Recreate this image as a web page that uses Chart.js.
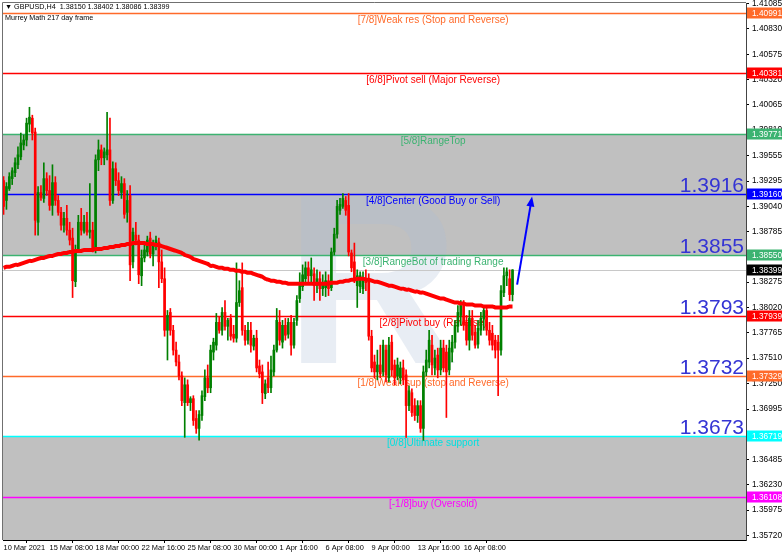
<!DOCTYPE html>
<html><head><meta charset="utf-8">
<script src="https://cdn.jsdelivr.net/npm/chart.js@4.4.0/dist/chart.umd.min.js"></script>
<style>html,body{margin:0;padding:0;background:#fff;}canvas{display:block;}</style>
</head><body>
<canvas id="c" width="782" height="555"></canvas>
<script>
// ---------- data ----------
const symbolTitle = '\u25BC GBPUSD,H4  1.38150 1.38402 1.38086 1.38399';
const indicatorTitle = 'Murrey Math 217 day frame';
const timeLabels = ['10 Mar 2021','15 Mar 08:00','18 Mar 00:00','22 Mar 16:00','25 Mar 08:00','30 Mar 00:00','1 Apr 16:00','6 Apr 08:00','9 Apr 00:00','13 Apr 16:00','16 Apr 08:00'];
const timeLabelBars = [0,16,32,48,64,80,96,112,128,144,160];
const opens = [1.3930,1.3910,1.3922,1.3932,1.3938,1.3946,1.3954,1.3966,1.3971,1.3987,1.3993,1.3979,1.3888,1.3918,1.3912,1.3932,1.3920,1.3905,1.3928,1.3910,
1.3898,1.3885,1.3892,1.3880,1.3872,1.3828,1.3860,1.3888,1.3879,1.3888,1.3878,1.3880,1.3862,1.3951,1.3961,1.3953,1.3956,1.3961,1.3910,1.3942,
1.3930,1.3918,1.3927,1.3898,1.3915,1.3848,1.3875,1.3870,1.3834,1.3852,1.3858,1.3872,1.3856,1.3865,1.3868,1.3848,1.3831,1.3779,1.3797,1.3779,
1.3759,1.3747,1.3733,1.3706,1.3724,1.3706,1.3710,1.3690,1.3680,1.3693,1.3712,1.3731,1.3721,1.3757,1.3764,1.3787,1.3779,1.3797,1.3783,1.3791,
1.3775,1.3771,1.3807,1.3822,1.3779,1.3769,1.3779,1.3763,1.3771,1.3743,1.3737,1.3715,1.3731,1.3721,1.3737,1.3759,1.3787,1.3767,1.3784,1.3775,
1.3787,1.3764,1.3789,1.3811,1.3823,1.3831,1.3842,1.3834,1.3836,1.3824,1.3831,1.3821,1.3822,1.3829,1.3822,1.3858,1.3876,1.3900,1.3904,1.3910,
1.3905,1.3857,1.3848,1.3824,1.3823,1.3821,1.3831,1.3829,1.3773,1.3747,1.3737,1.3744,1.3737,1.3759,1.3731,1.3767,1.3744,1.3733,1.3731,1.3741,
1.3734,1.3703,1.3716,1.3703,1.3693,1.3703,1.3680,1.3737,1.3747,1.3764,1.3741,1.3754,1.3739,1.3761,1.3757,1.3739,1.3757,1.3767,1.3783,1.3794,
1.3804,1.3787,1.3769,1.3791,1.3777,1.3765,1.3779,1.3791,1.3799,1.3779,1.3776,1.3769,1.3767,1.3759,1.3817,1.3834,1.3831,1.38150];
const highs = [1.3934,1.3928,1.3938,1.3943,1.3953,1.3964,1.3978,1.3976,1.3993,1.4004,1.3996,1.3983,1.3924,1.3925,1.3948,1.3938,1.3935,1.3946,1.3934,1.3915,
1.3903,1.3898,1.3905,1.3888,1.3882,1.3865,1.3895,1.3902,1.3895,1.3898,1.3927,1.3888,1.3956,1.3971,1.3966,1.3963,1.3999,1.3993,1.3949,1.3948,
1.3938,1.3934,1.3932,1.3920,1.3925,1.3882,1.3888,1.3875,1.3860,1.3865,1.3874,1.3878,1.3870,1.3874,1.3872,1.3860,1.3842,1.3799,1.3801,1.3784,
1.3767,1.3754,1.3737,1.3731,1.3729,1.3712,1.3713,1.3698,1.3698,1.3718,1.3739,1.3744,1.3764,1.3771,1.3796,1.3793,1.3802,1.3809,1.3791,1.3795,
1.3784,1.3847,1.3829,1.3847,1.3784,1.3787,1.3787,1.3774,1.3779,1.3749,1.3744,1.3729,1.3747,1.3753,1.3764,1.3801,1.3799,1.3789,1.3791,1.3791,
1.3794,1.3791,1.3814,1.3837,1.3845,1.3848,1.3848,1.3852,1.3842,1.3840,1.3838,1.3835,1.3838,1.3835,1.3862,1.3882,1.3910,1.3912,1.3917,1.3914,
1.3917,1.3860,1.3867,1.3840,1.3838,1.3838,1.3840,1.3836,1.3779,1.3754,1.3759,1.3764,1.3769,1.3764,1.3772,1.3774,1.3749,1.3751,1.3747,1.3749,
1.3739,1.3723,1.3720,1.3710,1.3708,1.3708,1.3743,1.3759,1.3779,1.3774,1.3759,1.3761,1.3769,1.3769,1.3764,1.3769,1.3774,1.3789,1.3804,1.3809,
1.3809,1.3794,1.3799,1.3799,1.3784,1.3789,1.3797,1.3804,1.3804,1.3787,1.3784,1.3774,1.3774,1.3824,1.3842,1.3842,1.3840,1.38402];
const lows = [1.3896,1.3901,1.3920,1.3926,1.3934,1.3942,1.3951,1.3961,1.3965,1.3979,1.3971,1.3875,1.3875,1.3910,1.3908,1.3915,1.3900,1.3895,1.3905,1.3895,
1.3880,1.3878,1.3875,1.3865,1.3812,1.3823,1.3858,1.3875,1.3877,1.3875,1.3872,1.3858,1.3857,1.3940,1.3946,1.3946,1.3951,1.3905,1.3907,1.3925,
1.3915,1.3912,1.3892,1.3888,1.3829,1.3842,1.3865,1.3826,1.3824,1.3848,1.3854,1.3852,1.3844,1.3860,1.3822,1.3827,1.3773,1.3749,1.3774,1.3754,
1.3743,1.3729,1.3703,1.3671,1.3703,1.3698,1.3683,1.3675,1.3668,1.3688,1.3708,1.3716,1.3716,1.3749,1.3759,1.3776,1.3774,1.3779,1.3769,1.3769,
1.3767,1.3767,1.3803,1.3774,1.3764,1.3765,1.3757,1.3759,1.3737,1.3731,1.3705,1.3710,1.3716,1.3716,1.3733,1.3757,1.3764,1.3761,1.3769,1.3771,
1.3754,1.3761,1.3784,1.3807,1.3819,1.3826,1.3827,1.3827,1.3809,1.3817,1.3809,1.3814,1.3813,1.3814,1.3819,1.3855,1.3872,1.3896,1.3902,1.3895,
1.3854,1.3838,1.3827,1.3802,1.3817,1.3816,1.3819,1.3769,1.3737,1.3731,1.3729,1.3731,1.3733,1.3727,1.3727,1.3733,1.3724,1.3729,1.3725,1.3724,
1.3671,1.3698,1.3692,1.3688,1.3686,1.3676,1.3668,1.3733,1.3741,1.3734,1.3734,1.3731,1.3734,1.3737,1.3691,1.3734,1.3747,1.3761,1.3777,1.3784,
1.3779,1.3764,1.3759,1.3769,1.3761,1.3761,1.3774,1.3779,1.3774,1.3764,1.3759,1.3751,1.3713,1.3754,1.3813,1.3824,1.3809,1.38086];
const closes = [1.3904,1.3924,1.3934,1.3940,1.3948,1.3956,1.3968,1.3971,1.3988,1.3994,1.3978,1.3890,1.3918,1.3913,1.3932,1.3920,1.3905,1.3928,1.3910,1.3898,
1.3885,1.3892,1.3880,1.3870,1.3829,1.3860,1.3888,1.3880,1.3888,1.3878,1.3880,1.3862,1.3951,1.3961,1.3953,1.3959,1.3961,1.3910,1.3942,1.3930,
1.3920,1.3927,1.3896,1.3910,1.3845,1.3878,1.3870,1.3835,1.3852,1.3860,1.3870,1.3856,1.3865,1.3870,1.3848,1.3831,1.3779,1.3794,1.3779,1.3759,
1.3747,1.3733,1.3708,1.3724,1.3706,1.3710,1.3688,1.3680,1.3694,1.3713,1.3731,1.3721,1.3759,1.3767,1.3787,1.3779,1.3797,1.3783,1.3789,1.3773,
1.3771,1.3807,1.3819,1.3779,1.3769,1.3779,1.3764,1.3771,1.3741,1.3735,1.3716,1.3725,1.3721,1.3739,1.3759,1.3789,1.3769,1.3784,1.3774,1.3787,
1.3764,1.3787,1.3809,1.3824,1.3835,1.3842,1.3834,1.3840,1.3824,1.3831,1.3821,1.3827,1.3829,1.3821,1.3858,1.3876,1.3904,1.3906,1.3912,1.3900,
1.3858,1.3842,1.3831,1.3834,1.3834,1.3831,1.3827,1.3773,1.3741,1.3737,1.3744,1.3735,1.3764,1.3734,1.3764,1.3739,1.3731,1.3744,1.3741,1.3729,
1.3703,1.3718,1.3696,1.3693,1.3703,1.3680,1.3737,1.3749,1.3769,1.3744,1.3751,1.3739,1.3761,1.3741,1.3737,1.3761,1.3767,1.3784,1.3797,1.3804,
1.3784,1.3769,1.3791,1.3774,1.3764,1.3781,1.3791,1.3799,1.3779,1.3769,1.3764,1.3759,1.3759,1.3819,1.3834,1.3838,1.3815,1.38399];
const ma217 = [1.3842,1.3843,1.3843,1.3844,1.3845,1.3845,1.3846,1.3847,1.3848,1.3849,1.3849,1.3850,1.3851,1.3852,1.3852,1.3853,1.3854,1.3854,1.3855,1.3856,
1.3856,1.3857,1.3857,1.3858,1.3858,1.3859,1.3859,1.3859,1.3860,1.3860,1.3860,1.3860,1.3861,1.3861,1.3861,1.3862,1.3862,1.3863,1.3863,1.3864,
1.3864,1.3865,1.3865,1.3866,1.3866,1.3867,1.3867,1.3867,1.3867,1.3867,1.3866,1.3866,1.3866,1.3865,1.3865,1.3864,1.3863,1.3862,1.3861,1.3860,
1.3859,1.3858,1.3857,1.3855,1.3854,1.3853,1.3851,1.3850,1.3849,1.3848,1.3847,1.3846,1.3844,1.3844,1.3843,1.3842,1.3842,1.3841,1.3841,1.3840,
1.3840,1.3839,1.3839,1.3838,1.3838,1.3837,1.3837,1.3836,1.3835,1.3834,1.3833,1.3831,1.3830,1.3829,1.3829,1.3828,1.3828,1.3827,1.3827,1.3826,
1.3826,1.3826,1.3826,1.3826,1.3826,1.3826,1.3826,1.3826,1.3826,1.3826,1.3826,1.3826,1.3826,1.3826,1.3827,1.3827,1.3827,1.3828,1.3828,1.3829,
1.3829,1.3830,1.3830,1.3831,1.3831,1.3831,1.3830,1.3830,1.3829,1.3828,1.3828,1.3827,1.3826,1.3825,1.3824,1.3824,1.3823,1.3822,1.3821,1.3821,
1.3820,1.3820,1.3819,1.3818,1.3818,1.3817,1.3817,1.3816,1.3815,1.3814,1.3813,1.3812,1.3811,1.3811,1.3810,1.3809,1.3808,1.3807,1.3807,1.3806,
1.3806,1.3805,1.3805,1.3805,1.3804,1.3804,1.3804,1.3803,1.3803,1.3803,1.3803,1.3802,1.3802,1.3802,1.3802,1.3802,1.3803,1.3803];
const levelValues = [1.40991,1.40381,1.39771,1.39160,1.38550,1.37939,1.37329,1.36719,1.36108];
const levelNames = ['[7/8]Weak res (Stop and Reverse)','[6/8]Pivot sell (Major Reverse)','[5/8]RangeTop','[4/8]Center (Good Buy or Sell)','[3/8]RangeBot of trading Range','[2/8]Pivot buy (Reverse)','[1/8]Weak sup (stop and Reverse)','[0/8]Ultimate support','[-1/8]buy (Oversold)'];
const bigLabelValues = [1.39160,1.38550,1.37939,1.37329,1.36719];
const bigLabelTexts = ['1.3916','1.3855','1.3793','1.3732','1.3673'];
const lowLabelValue = 1.35498;
const lowLabelText = '1.3549';
const lastPrice = 1.38399;
const axisTicks = [1.41085,1.40830,1.40575,1.40320,1.40065,1.39810,1.39555,1.39295,1.39040,1.38785,1.38530,1.38275,1.38020,1.37765,1.37510,1.37250,1.36995,1.36740,1.36485,1.36230,1.35975,1.35720];
const arrowFrom = [178.6, 1.3825];
const arrowTo = [183.8, 1.3914];
const priceMin = 1.35674, priceMax = 1.41092;
const barMin = -0.2, barMax = 258.2;

// ---------- styles ----------
const levelColors = ['#ff6a2a','#ff0000','#3cb371','#0000ff','#3cb371','#ff0000','#ff6a2a','#00ffff','#ff00ff'];
const levelTextColors = ['#ff6a2a','#ff0000','#3cb371','#0000ff','#3cb371','#ff0000','#ff6a2a','#00e0e0','#ff00ff'];
const UP = '#008000', DOWN = '#ff0000';
const FONT = '"Liberation Sans", Arial, sans-serif';

const idx = closes.map((_, i) => i);
const candleColor = idx.map(i => closes[i] >= opens[i] ? UP : DOWN);

const levelsPlugin = {
  id: 'levels',
  beforeDatasetsDraw(chart) {
    const {ctx, chartArea: a, scales: {x, y}} = chart;
    ctx.save();
    ctx.beginPath(); ctx.rect(a.left, a.top, a.right - a.left, a.bottom - a.top); ctx.clip();
    ctx.fillStyle = '#c0c0c0';
    const y5 = y.getPixelForValue(levelValues[2]), y3 = y.getPixelForValue(levelValues[4]);
    ctx.fillRect(a.left, y5, a.right - a.left, y3 - y5);
    const y0 = y.getPixelForValue(levelValues[7]);
    ctx.fillRect(a.left, y0, a.right - a.left, a.bottom - y0);
    // watermark
    ctx.font = 'bold 242px ' + FONT;
    ctx.fillStyle = 'rgba(170,190,215,0.27)';
    ctx.textAlign = 'left'; ctx.textBaseline = 'alphabetic';
    ctx.fillText('R', a.left + 282, a.top + 360);
    // last price line
    const yl = Math.round(y.getPixelForValue(lastPrice)) + 0.5;
    ctx.strokeStyle = '#c8c8c8'; ctx.lineWidth = 1;
    ctx.beginPath(); ctx.moveTo(a.left, yl); ctx.lineTo(a.right, yl); ctx.stroke();
    // levels
    ctx.font = '10px ' + FONT; ctx.textAlign = 'center'; ctx.textBaseline = 'top';
    const xc = x.getPixelForValue(149.4);
    levelValues.forEach((v, k) => {
      const py = Math.round(y.getPixelForValue(v)) + 0.5;
      ctx.strokeStyle = levelColors[k]; ctx.lineWidth = 1.5;
      ctx.beginPath(); ctx.moveTo(a.left, py); ctx.lineTo(a.right, py); ctx.stroke();
      ctx.fillStyle = levelTextColors[k];
      ctx.fillText(levelNames[k], xc, py + 1.5);
    });
    ctx.restore();
  },
  afterDatasetsDraw(chart) {
    const {ctx, chartArea: a, scales: {x, y}} = chart;
    ctx.save();
    ctx.beginPath(); ctx.rect(a.left, a.top, a.right - a.left, a.bottom - a.top); ctx.clip();
    ctx.font = '21px ' + FONT; ctx.fillStyle = '#3434d4';
    ctx.textAlign = 'right'; ctx.textBaseline = 'alphabetic';
    bigLabelValues.forEach((v, k) => {
      ctx.fillText(bigLabelTexts[k], a.right - 2, y.getPixelForValue(v) - 2);
    });
    ctx.textAlign = 'left';
    ctx.fillText(lowLabelText, x.getPixelForValue(191.2), y.getPixelForValue(lowLabelValue) - 2);
    // arrow
    const x1 = x.getPixelForValue(arrowFrom[0]), y1 = y.getPixelForValue(arrowFrom[1]);
    const x2 = x.getPixelForValue(arrowTo[0]), y2 = y.getPixelForValue(arrowTo[1]);
    const ang = Math.atan2(y2 - y1, x2 - x1);
    ctx.strokeStyle = '#0000ff'; ctx.fillStyle = '#0000ff'; ctx.lineWidth = 2;
    ctx.beginPath(); ctx.moveTo(x1, y1);
    ctx.lineTo(x2 - 8 * Math.cos(ang), y2 - 8 * Math.sin(ang)); ctx.stroke();
    ctx.beginPath(); ctx.moveTo(x2, y2);
    ctx.lineTo(x2 - 10 * Math.cos(ang) + 4 * Math.sin(ang), y2 - 10 * Math.sin(ang) - 4 * Math.cos(ang));
    ctx.lineTo(x2 - 10 * Math.cos(ang) - 4 * Math.sin(ang), y2 - 10 * Math.sin(ang) + 4 * Math.cos(ang));
    ctx.closePath(); ctx.fill();
    // header
    ctx.fillStyle = '#000'; ctx.font = '7.2px ' + FONT; ctx.textBaseline = 'middle'; ctx.textAlign = 'left';
    ctx.fillText(symbolTitle, a.left + 2, a.top + 4);
    ctx.fillText(indicatorTitle, a.left + 2, a.top + 15);
    ctx.restore();
    // frame
    ctx.save();
    ctx.strokeStyle = '#707070'; ctx.lineWidth = 1;
    ctx.beginPath(); ctx.moveTo(a.left - 0.5, a.bottom); ctx.lineTo(a.left - 0.5, a.top - 0.5); ctx.lineTo(a.right, a.top - 0.5); ctx.stroke();
    ctx.restore();
  },
  afterDraw(chart) {
    const {ctx, chartArea: a, scales: {y}} = chart;
    ctx.save();
    ctx.font = '8.3px ' + FONT; ctx.textAlign = 'left'; ctx.textBaseline = 'middle';
    const boxes = levelValues.map((v, k) => [v, levelColors[k]]).concat([[lastPrice, '#000000']]);
    boxes.forEach(([v, c]) => {
      const py = Math.round(y.getPixelForValue(v));
      ctx.fillStyle = c; ctx.fillRect(a.right + 1, py - 5.5, 36, 11);
      ctx.fillStyle = '#ffffff'; ctx.fillText(v.toFixed(5), a.right + 6, py + 0.5);
    });
    ctx.restore();
  }
};

new Chart(document.getElementById('c'), {
  type: 'bar',
  data: {
    datasets: [
      { type: 'line', label: 'MA', data: idx.map(i => ({x: i, y: ma217[i]})), borderColor: '#ff0000', borderWidth: 4, pointRadius: 0, tension: 0.2, order: 0 },
      { label: 'body', data: idx.map(i => ({x: i, y: [opens[i], closes[i]]})), backgroundColor: candleColor, borderWidth: 0, barThickness: 2, minBarLength: 1, grouped: false, order: 1 },
      { label: 'wick', data: idx.map(i => ({x: i, y: [lows[i], highs[i]]})), backgroundColor: candleColor, borderWidth: 0, barThickness: 1, grouped: false, order: 2 }
    ]
  },
  options: {
    responsive: false, animation: false, devicePixelRatio: 1,
    layout: { padding: { top: 3, left: 3, right: 0, bottom: 0 } },
    plugins: { legend: { display: false }, tooltip: { enabled: false } },
    scales: {
      x: {
        type: 'linear', min: barMin, max: barMax, offset: false,
        grid: { drawOnChartArea: false, drawTicks: true, tickLength: 3, color: '#000' },
        border: { display: true, color: '#000' },
        afterBuildTicks: s => { s.ticks = timeLabelBars.map(v => ({value: v})); },
        ticks: { autoSkip: false, maxRotation: 0, align: 'start', padding: 1, color: '#000',
                 font: { family: 'Liberation Sans', size: 7.4 },
                 callback: (v, i) => timeLabels[i] },
        afterFit: s => { s.height = 15; s.paddingLeft = 0; s.paddingRight = 0; }
      },
      y: {
        type: 'linear', position: 'right', min: priceMin, max: priceMax,
        grid: { drawOnChartArea: false, drawTicks: true, tickLength: 3, color: '#000' },
        border: { display: true, color: '#444' },
        afterBuildTicks: s => { s.ticks = axisTicks.map(v => ({value: v})); },
        ticks: { autoSkip: false, padding: 3, color: '#000',
                 font: { family: 'Liberation Sans', size: 8.3 },
                 callback: (v, i) => axisTicks[i].toFixed(5) },
        afterFit: s => { s.width = 36; s.paddingTop = 0; s.paddingBottom = 0; }
      }
    }
  },
  plugins: [levelsPlugin]
});
</script>
</body></html>
